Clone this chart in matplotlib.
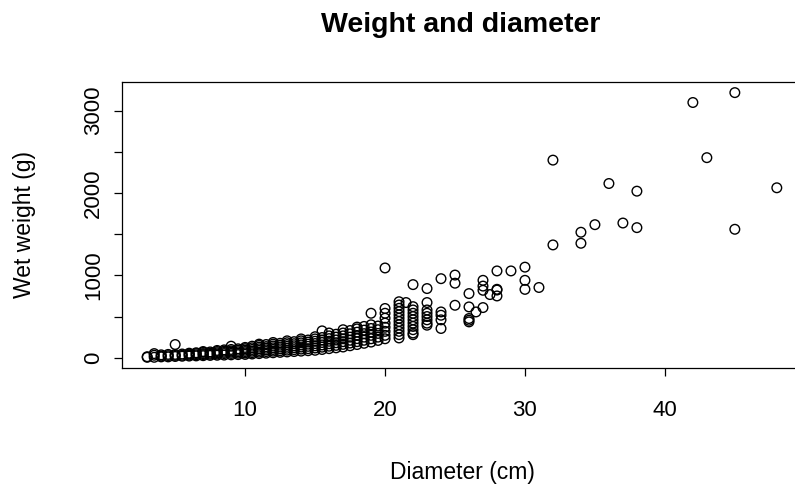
import matplotlib
matplotlib.use("Agg")
import matplotlib.pyplot as plt

# diameter (cm) and wet weight (g)
diameter = [
    3, 3,
    3.5, 3.5, 3.5,
    4, 4, 4,
    4.5, 4.5, 4.5,
    5, 5, 5, 5,
    5.5, 5.5, 5.5,
    6, 6, 6, 6,
    6.5, 6.5, 6.5, 6.5,
    7, 7, 7, 7, 7,
    7.5, 7.5, 7.5, 7.5,
    8, 8, 8, 8, 8,
    8.5, 8.5, 8.5, 8.5, 8.5,
    9, 9, 9, 9, 9, 9,
    9.5, 9.5, 9.5, 9.5, 9.5,
    10, 10, 10, 10, 10, 10,
    10.5, 10.5, 10.5, 10.5, 10.5, 10.5,
    11, 11, 11, 11, 11, 11, 11,
    11.5, 11.5, 11.5, 11.5, 11.5, 11.5,
    12, 12, 12, 12, 12, 12, 12,
    12.5, 12.5, 12.5, 12.5, 12.5, 12.5,
    13, 13, 13, 13, 13, 13, 13,
    13.5, 13.5, 13.5, 13.5, 13.5, 13.5,
    14, 14, 14, 14, 14, 14, 14,
    14.5, 14.5, 14.5, 14.5, 14.5, 14.5,
    15, 15, 15, 15, 15, 15, 15,
    15.5, 15.5, 15.5, 15.5, 15.5, 15.5, 15.5,
    16, 16, 16, 16, 16, 16, 16,
    16.5, 16.5, 16.5, 16.5, 16.5, 16.5,
    17, 17, 17, 17, 17, 17, 17,
    17.5, 17.5, 17.5, 17.5, 17.5, 17.5,
    18, 18, 18, 18, 18, 18, 18,
    18.5, 18.5, 18.5, 18.5, 18.5, 18.5,
    19, 19, 19, 19, 19, 19, 19,
    19.5, 19.5, 19.5, 19.5, 19.5,
    20, 20, 20, 20, 20, 20, 20, 20, 20,
    21, 21, 21, 21, 21, 21, 21, 21, 21, 21, 21, 21, 21.5,
    22, 22, 22, 22, 22, 22, 22, 22, 22, 22, 22,
    23, 23, 23, 23, 23, 23, 23, 23,
    24, 24, 24, 24, 24,
    25, 25, 25,
    26, 26, 26, 26, 26, 26.5,
    27, 27, 27, 27, 27.5,
    28, 28, 28, 28,
    29, 30, 30, 30, 31,
    32, 32, 34, 34, 35, 36, 37, 38, 38,
    42, 43, 45, 45, 48,
]
wet_weight = [
    5, 12,
    5, 30, 50,
    10, 20, 35,
    10, 25, 40,
    15, 28, 40, 160,
    18, 30, 45,
    20, 32, 45, 55,
    22, 35, 50, 60,
    25, 38, 50, 65, 75,
    28, 42, 55, 70,
    30, 45, 60, 75, 88,
    32, 50, 65, 80, 95,
    35, 52, 68, 82, 100, 140,
    38, 55, 72, 90, 108,
    40, 58, 75, 92, 110, 125,
    45, 62, 80, 100, 120, 140,
    50, 68, 88, 108, 128, 150, 165,
    55, 75, 95, 115, 135, 160,
    60, 80, 100, 120, 142, 165, 185,
    65, 85, 108, 130, 152, 175,
    70, 92, 115, 138, 160, 182, 205,
    75, 98, 122, 145, 170, 195,
    80, 105, 130, 155, 180, 205, 228,
    85, 110, 138, 165, 190, 215,
    90, 118, 145, 172, 200, 228, 255,
    100, 128, 155, 185, 215, 245, 326,
    110, 140, 170, 200, 232, 265, 300,
    120, 150, 182, 215, 250, 285,
    130, 162, 195, 230, 265, 300, 340,
    145, 178, 212, 250, 290, 330,
    160, 195, 232, 270, 310, 350, 372,
    175, 212, 250, 292, 335, 380,
    190, 230, 272, 312, 355, 400, 540,
    210, 250, 295, 340, 385,
    230, 272, 320, 370, 420, 480, 540, 598, 1090,
    240, 280, 320, 360, 400, 440, 480, 520, 560, 600, 640, 680, 670,
    280, 300, 340, 380, 420, 460, 500, 540, 580, 620, 888,
    395, 420, 460, 500, 540, 580, 670, 840,
    355, 460, 516, 556, 960,
    637, 905, 1004,
    435, 455, 476, 617, 779, 556,
    609, 819, 870, 940, 767,
    750, 822, 831, 1054,
    1054, 830, 940, 1100, 853,
    1370, 2400, 1390, 1524, 1616, 2116, 1636, 1580, 2023,
    3100, 2430, 1560, 3220, 2064,
]
assert len(diameter) == len(wet_weight)

y_ticks = [0, 500, 1000, 1500, 2000, 2500, 3000]
y_tick_labels = ["0", "", "1000", "", "2000", "", "3000"]

plt.rcParams["font.family"] = ["Liberation Sans", "DejaVu Sans"]

fig = plt.figure(figsize=(7.95, 4.91), dpi=100)
# plot box runs past the right edge, as in the reference
ax = fig.add_axes([122 / 795, 1 - 368 / 491, 680 / 795, 286 / 491])

ax.scatter(diameter, wet_weight, s=48, facecolors="none", edgecolors="black",
           linewidths=1.0)

ax.set_xlim(1.2, 49.8)
ax.set_ylim(-125, 3349)

ax.set_xticks([10, 20, 30, 40])
ax.set_yticks(y_ticks)
ax.set_yticklabels(y_tick_labels, rotation=90, va="center")
ax.tick_params(axis="both", length=6, width=0.9, labelsize=16, color="black")
ax.tick_params(axis="x", pad=17)
ax.tick_params(axis="y", pad=7)
for sp in ax.spines.values():
    sp.set_linewidth(0.9)

ax.set_xlabel("Diameter (cm)", fontsize=16.5, va="center")
ax.xaxis.set_label_coords(0.5, (368 - 473) / 286)
ax.set_ylabel("Wet weight (g)", fontsize=16.5, va="center")
ax.yaxis.set_label_coords((24 - 122) / 680, 0.5)
fig.text(0.58, 1 - 25 / 491, "Weight and diameter", ha="center", va="center",
         fontsize=20.5, fontweight="bold")

fig.savefig("out.png", dpi=100)
